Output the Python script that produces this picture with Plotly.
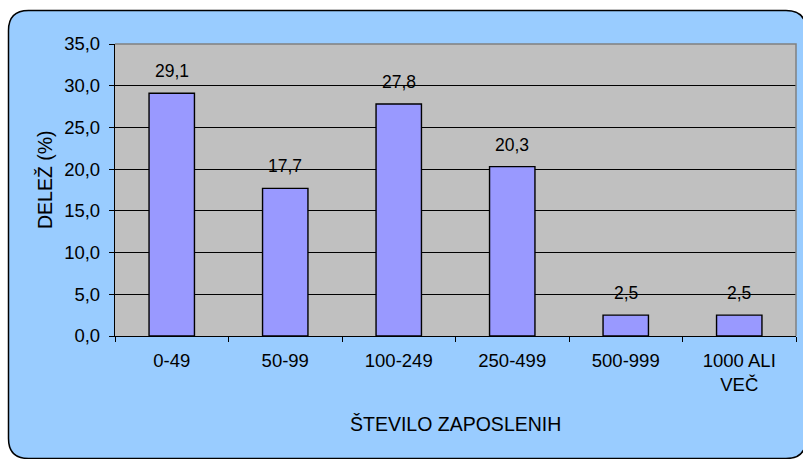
import plotly.graph_objects as go

# Data
categories = ["0-49", "50-99", "100-249", "250-499", "500-999", "1000 ALI<br>VEČ"]
shares = [29.1, 17.7, 27.8, 20.3, 2.5, 2.5]
y_ticks = [0, 5, 10, 15, 20, 25, 30, 35]

x_title = "ŠTEVILO ZAPOSLENIH"
y_title = "DELEŽ (%)"

W, H = 803, 459
L, R, T, B = 115, 7, 44, 123
PW, PH = W - L - R, H - T - B

FONT = "Liberation Sans, Arial, sans-serif"
FS_TICK = 18.5
FS_LABEL = 17.5
FS_TITLE = 19.5


def px_x(p):
    return (p - L) / PW


def px_y(p):
    return (T + PH - p) / PH


def fmt(v):
    return f"{v:.1f}".replace(".", ",")


# rounded outer frame in paper coordinates
fx0, fx1 = px_x(8.5), px_x(806)
fy0, fy1 = px_y(458.5), px_y(10.5)
rx, ry = 20 / PW, 20 / PH
frame_path = (
    f"M {fx0 + rx},{fy1} L {fx1 - rx},{fy1} Q {fx1},{fy1} {fx1},{fy1 - ry} "
    f"L {fx1},{fy0 + ry} Q {fx1},{fy0} {fx1 - rx},{fy0} "
    f"L {fx0 + rx},{fy0} Q {fx0},{fy0} {fx0},{fy0 + ry} "
    f"L {fx0},{fy1 - ry} Q {fx0},{fy1} {fx0 + rx},{fy1} Z"
)

fig = go.Figure(
    go.Bar(
        x=categories,
        y=shares,
        marker=dict(color="#9999FF", line=dict(color="black", width=1.4)),
        hoverinfo="skip",
    )
)

annotations = [
    dict(
        x=c, y=v, xref="x", yref="y", text=fmt(v), showarrow=False,
        yanchor="middle", yshift=22, font=dict(family=FONT, size=FS_LABEL, color="black"),
    )
    for c, v in zip(categories, shares)
]
annotations += [
    dict(
        x=0.5, y=px_y(424), xref="paper", yref="paper", text=x_title,
        showarrow=False, xanchor="center", yanchor="middle",
        font=dict(family=FONT, size=FS_TITLE, color="black"),
    ),
    dict(
        x=px_x(45), y=px_y(180), xref="paper", yref="paper", text=y_title,
        showarrow=False, textangle=-90, xanchor="center", yanchor="middle",
        font=dict(family=FONT, size=FS_TITLE, color="black"),
    ),
]

fig.update_layout(
    width=W,
    height=H,
    margin=dict(l=L, r=R, t=T, b=B, autoexpand=False),
    paper_bgcolor="white",
    plot_bgcolor="rgba(0,0,0,0)",
    bargap=0.6,
    showlegend=False,
    separators=",.",
    font=dict(family=FONT, size=FS_TICK, color="black"),
    annotations=annotations,
    shapes=[
        dict(type="path", xref="paper", yref="paper", path=frame_path,
             fillcolor="#99CCFF", line=dict(color="black", width=1.5), layer="below"),
        dict(type="rect", xref="paper", yref="paper", x0=0, x1=1, y0=0, y1=1,
             fillcolor="#C0C0C0", line=dict(width=0), layer="below"),
        dict(type="path", xref="paper", yref="paper", path="M 0,1 L 1,1 L 1,0",
             line=dict(color="#808080", width=1.5), layer="above"),
    ],
    xaxis=dict(
        type="category",
        tickson="boundaries",
        ticks="outside",
        ticklen=5,
        tickcolor="black",
        showline=True,
        linecolor="black",
        linewidth=1.3,
        showgrid=False,
        ticklabelstandoff=8,
        tickfont=dict(family=FONT, size=FS_TICK, color="black"),
        fixedrange=True,
    ),
    yaxis=dict(
        range=[0, 35],
        tickvals=y_ticks,
        tickformat=".1f",
        ticks="outside",
        ticklen=5,
        tickcolor="black",
        showline=True,
        linecolor="black",
        linewidth=1.3,
        showgrid=True,
        gridcolor="black",
        gridwidth=1,
        zeroline=False,
        ticklabelstandoff=5,
        tickfont=dict(family=FONT, size=FS_TICK, color="black"),
        fixedrange=True,
    ),
)

fig.write_html("out.html", config={"displayModeBar": False})
